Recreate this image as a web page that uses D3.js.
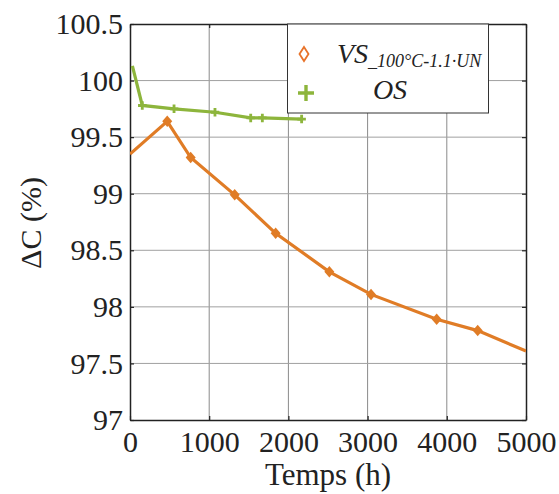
<!DOCTYPE html>
<html><head><meta charset="utf-8">
<script src="https://cdn.jsdelivr.net/npm/d3@7"></script>
<style>body{margin:0;background:#fff}svg{display:block}</style>
</head><body>
<script>
const vsTime = [0, 470, 766, 1322, 1839, 2517, 3043, 3872, 4390, 5000];
const vsValue = [99.35, 99.64, 99.32, 98.99, 98.65, 98.31, 98.11, 97.89, 97.79, 97.61];
const vsMarker = [false, true, true, true, true, true, true, true, true, false];
const osTime = [30, 155, 556, 1073, 1524, 1671, 2167];
const osValue = [100.13, 99.78, 99.75, 99.72, 99.67, 99.67, 99.66];
const xTicks = [0, 1000, 2000, 3000, 4000, 5000];
const yTicks = [97, 97.5, 98, 98.5, 99, 99.5, 100, 100.5];
const yTickLabels = ["97", "97.5", "98", "98.5", "99", "99.5", "100", "100.5"];

const W = 559, H = 494;
const L = 130, R = 526, T = 24, B = 420;
const svg = d3.select("body").append("svg").attr("width", W).attr("height", H);
const font = "'Liberation Serif', 'Times New Roman', serif";
const x = d3.scaleLinear().domain([0, 5000]).range([L, R]);
const y = d3.scaleLinear().domain([97, 100.5]).range([B, T]);

// grid
const grid = svg.append("g");
grid.selectAll("line.gx").data(xTicks.slice(1, -1)).join("line")
  .attr("x1", d => x(d)).attr("x2", d => x(d)).attr("y1", T).attr("y2", B)
  .attr("stroke", "#8a8a8a").attr("stroke-width", 1);
grid.selectAll("line.gy").data(yTicks.slice(1, -1)).join("line")
  .attr("y1", d => y(d)).attr("y2", d => y(d)).attr("x1", L).attr("x2", R)
  .attr("stroke", "#a0a0a0").attr("stroke-width", 1);

// axes
const xAxis = d3.axisBottom(x).tickValues(xTicks).tickFormat(d3.format("d")).tickSizeInner(-4).tickSizeOuter(0).tickPadding(11);
const gx = svg.append("g").attr("transform", `translate(0,${B})`).call(xAxis);
gx.selectAll("text").attr("font-family", font).attr("font-size", 30).attr("fill", "#222").attr("dy", "0.71em");
const yAxis = d3.axisLeft(y).tickValues(yTicks).tickFormat((d, i) => yTickLabels[i]).tickSizeInner(-4).tickSizeOuter(0).tickPadding(7);
const gy = svg.append("g").attr("transform", `translate(${L},0)`).call(yAxis);
gy.selectAll("text").attr("font-family", font).attr("font-size", 30).attr("fill", "#222");
const yAxisR = d3.axisRight(y).tickValues(yTicks).tickFormat("").tickSizeInner(-4).tickSizeOuter(0);
svg.append("g").attr("transform", `translate(${R},0)`).call(yAxisR);
const xAxisT = d3.axisTop(x).tickValues(xTicks).tickFormat("").tickSizeInner(-4).tickSizeOuter(0);
svg.append("g").attr("transform", `translate(0,${T})`).call(xAxisT);
svg.selectAll(".domain").attr("stroke", "#222").attr("stroke-width", 1.5);
svg.selectAll(".tick line").attr("stroke", "#222").attr("stroke-width", 1.2);

// lines
const line = d3.line().x(d => x(d[0])).y(d => y(d[1]));
const orange = "#E07C26", green = "#8DB53C";
const vs = vsTime.map((t, i) => [t, vsValue[i], vsMarker[i]]);
const os = osTime.map((t, i) => [t, osValue[i]]);
svg.append("clipPath").attr("id", "c").append("rect").attr("x", L).attr("y", T).attr("width", R - L).attr("height", B - T);
const plot = svg.append("g").attr("clip-path", "url(#c)");
plot.append("path").datum(vs).attr("d", line).attr("fill", "none").attr("stroke", orange).attr("stroke-width", 3.2);
plot.selectAll("path.dm").data(vs.filter(d => d[2])).join("path")
  .attr("d", d3.symbol(d3.symbolSquare, 50)).attr("transform", d => `translate(${x(d[0])},${y(d[1])}) scale(1,1.15) rotate(45)`)
  .attr("fill", orange);
plot.append("path").datum(os).attr("d", line).attr("fill", "none").attr("stroke", green).attr("stroke-width", 3.2);
plot.selectAll("path.pl").data(os.slice(1)).join("path")
  .attr("d", d3.symbol(d3.symbolCross, 40)).attr("transform", d => `translate(${x(d[0])},${y(d[1])})`)
  .attr("fill", green);

// legend
const lg = svg.append("g");
lg.append("rect").attr("x", 287.5).attr("y", 24).attr("width", 201).attr("height", 89)
  .attr("fill", "#fff").attr("stroke", "#333").attr("stroke-width", 1);
lg.append("path").attr("d", "M304,47 L308.5,54 L304,61 L299.5,54 Z")
  .attr("fill", "none").attr("stroke", "#E8732A").attr("stroke-width", 1.8);
const t1 = lg.append("text").attr("x", 337).attr("y", 63).attr("font-family", font).attr("font-style", "italic").attr("fill", "#222");
t1.append("tspan").attr("font-size", 28).text("VS");
t1.append("tspan").attr("font-size", 18).attr("dy", 4).text("_100°C-1.1·UN");
lg.append("path").attr("d", "M306,85 V101 M298,93 H314").attr("stroke", green).attr("stroke-width", 3.4);
lg.append("text").attr("x", 390).attr("y", 99).attr("text-anchor", "middle").attr("font-family", font)
  .attr("font-style", "italic").attr("font-size", 28).attr("fill", "#222").text("OS");

// axis labels
svg.append("text").attr("x", x(2500)).attr("y", 485).attr("text-anchor", "middle").attr("font-family", font)
  .attr("font-size", 31).attr("fill", "#222").text("Temps (h)");
svg.append("text").attr("transform", "translate(41,223) rotate(-90)").attr("text-anchor", "middle").attr("font-family", font)
  .attr("font-size", 30).attr("fill", "#222").text("ΔC (%)");
</script>
</body></html>
